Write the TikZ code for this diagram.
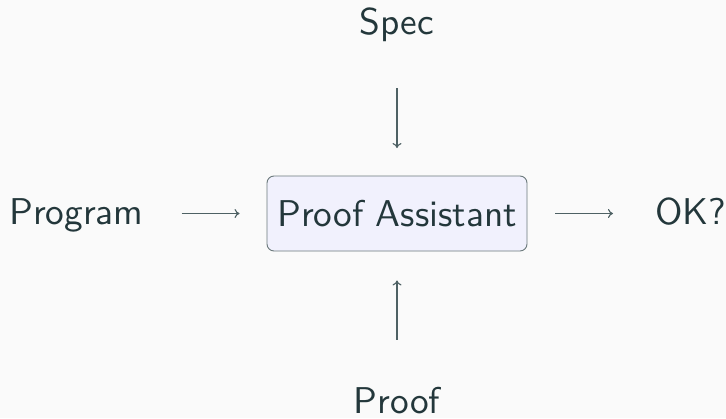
\documentclass[tikz,border=0pt]{standalone}
\usepackage{fontspec}
\newfontfamily\labelfont{lmsans10-regular}[Extension=.otf]
\usetikzlibrary{arrows.meta}
\definecolor{ink}{HTML}{23373B}
\definecolor{wire}{HTML}{4E6164}
\definecolor{boxfill}{HTML}{F1F1FD}
\definecolor{boxline}{HTML}{6B797B}
\definecolor{paper}{HTML}{FAFAFA}
\tikzset{
  label text/.style={text=ink, font=\labelfont\fontsize{37.3}{40}\selectfont, inner sep=0pt},
  assistant/.style={label text, draw=boxline, fill=boxfill, line width=0.9pt,
    rounded corners=7pt, minimum width=260pt, minimum height=75pt},
  feed/.style={draw=wire, line width=1.1pt, -{To[length=5pt,width=9pt]}},
}
\begin{document}
\begin{tikzpicture}[x=1pt,y=-1pt]
  \fill[paper] (0,0) rectangle (726,418);
  \useasboundingbox (0,0) rectangle (726,418);

  \node[assistant] (pa) at (397,213.5) {Proof Assistant};
  \node[label text, anchor=base] (spec) at (397,34) {Spec};
  \node[label text, anchor=base] (proof) at (397,413) {Proof};
  \node[label text, anchor=base west] (prog) at (9,224) {Program};
  \node[label text, anchor=base west] (ok) at (655,224) {OK?};

  \draw[feed, shorten <=38pt, shorten >=27pt] (prog.east |- pa.center) -- (pa.west);
  \draw[feed, shorten <=28pt, shorten >=42pt] (pa.east) -- (ok.west |- pa.center);
  \draw[feed, shorten <=46.8pt, shorten >=27.5pt] (spec.south) -- (pa.north);
  \draw[feed, shorten <=46.7pt, shorten >=29pt] (proof.north) -- (pa.south);
\end{tikzpicture}
\end{document}
